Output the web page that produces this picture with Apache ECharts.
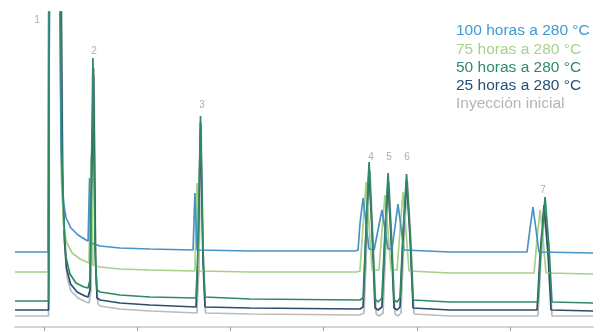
<!DOCTYPE html>
<html>
<head>
<meta charset="utf-8">
<script src="https://cdn.jsdelivr.net/npm/echarts@6/dist/echarts.min.js"></script>
<style>
  html, body { margin: 0; padding: 0; background: #ffffff; }
  #chart { width: 600px; height: 332px; }
</style>
</head>
<body>
<div id="chart"></div>
<script>
// Retention time (min) and detector signal for each run; the solvent peak runs off scale.
const seriesNames = ['100 horas a 280 °C', '75 horas a 280 °C', '50 horas a 280 °C', '25 horas a 280 °C', 'Inyección inicial'];

const trace100h = [
  [0, 75], [1.77, 75], [1.82, 400], [2.36, 400], [2.47, 177], [2.57, 127], [2.74, 109], [3.00, 99],
  [3.38, 92], [3.81, 87], [3.92, 86], [4.00, 149], [4.08, 84], [4.56, 81], [5.63, 79], [7.24, 78],
  [9.55, 77], [9.65, 134], [9.76, 77], [12.60, 76], [18.24, 76],
  [18.40, 77], [18.50, 103], [18.67, 129], [18.83, 103], [18.99, 78],
  [19.26, 77], [19.47, 97], [19.68, 117], [19.85, 97], [20.01, 78],
  [20.22, 78], [20.38, 100], [20.54, 123], [20.70, 100], [20.86, 77],
  [23.33, 75], [27.46, 75], [27.62, 98], [27.78, 120], [27.94, 98], [28.10, 75], [31.00, 74]
];

const trace75h = [
  [0, 55], [1.77, 55], [1.82, 400], [2.39, 400], [2.49, 147], [2.60, 102], [2.76, 85], [3.06, 74],
  [3.49, 68], [3.97, 64], [4.08, 172], [4.18, 62], [4.56, 60], [5.63, 58], [7.24, 57],
  [9.65, 56], [9.76, 144], [9.87, 56], [12.60, 55], [18.34, 55],
  [18.50, 56], [18.67, 102], [18.83, 145], [18.99, 102], [19.15, 57],
  [19.52, 57], [19.68, 95], [19.84, 132], [20.01, 95], [20.17, 57],
  [20.49, 57], [20.65, 97], [20.81, 135], [20.97, 97], [21.13, 56],
  [23.33, 54], [27.84, 54], [28.00, 88], [28.16, 117], [28.32, 88], [28.48, 54], [31.00, 53]
];

const trace50h = [
  [0, 26], [1.80, 26], [1.85, 400], [2.41, 400], [2.52, 167], [2.63, 102], [2.74, 69], [2.95, 53],
  [3.27, 44], [3.70, 40], [3.92, 39], [4.02, 47], [4.18, 269], [4.29, 77], [4.40, 37], [4.56, 35], [5.63, 32],
  [7.24, 30], [9.71, 29], [9.81, 77], [9.95, 211], [10.08, 77], [10.19, 30], [12.60, 28], [18.50, 27],
  [18.67, 29], [18.83, 100], [18.99, 165], [19.15, 100], [19.31, 28], [19.47, 25],
  [19.68, 29], [19.84, 95], [20.01, 154], [20.17, 95], [20.33, 27], [20.49, 25],
  [20.65, 29], [20.81, 95], [21.00, 153], [21.19, 95], [21.35, 27],
  [23.33, 25], [28.05, 25], [28.21, 80], [28.43, 130], [28.64, 80], [28.80, 25], [31.00, 24]
];

const trace25h = [
  [0, 17], [1.80, 17], [1.85, 400], [2.44, 400], [2.55, 152], [2.65, 87], [2.76, 59], [2.98, 43],
  [3.33, 35], [3.75, 31], [3.92, 30], [4.02, 37], [4.21, 259], [4.32, 67], [4.40, 29], [4.56, 27], [5.63, 24],
  [7.24, 22], [9.71, 20], [9.81, 67], [9.95, 205], [10.08, 67], [10.19, 20], [12.60, 19], [18.50, 18],
  [18.67, 20], [18.83, 95], [18.99, 159], [19.15, 95], [19.31, 19], [19.47, 17],
  [19.68, 20], [19.84, 88], [20.01, 147], [20.17, 88], [20.33, 19], [20.49, 17],
  [20.65, 20], [20.81, 88], [21.00, 147], [21.19, 88], [21.35, 19],
  [23.33, 17], [28.00, 17], [28.16, 72], [28.37, 122], [28.59, 72], [28.75, 17], [31.00, 16]
];

const traceInicial = [
  [0, 11], [1.80, 11], [1.85, 400], [2.47, 400], [2.57, 142], [2.68, 77], [2.79, 50], [3.00, 36],
  [3.38, 29], [3.81, 25], [3.97, 24], [4.08, 37], [4.24, 252], [4.34, 47], [4.45, 23], [4.56, 21], [5.63, 18],
  [7.24, 16], [9.76, 14], [9.87, 62], [9.98, 202], [10.11, 62], [10.22, 14], [12.60, 13], [18.50, 12],
  [18.72, 14], [18.88, 90], [19.04, 157], [19.20, 90], [19.37, 13], [19.53, 11],
  [19.74, 14], [19.90, 85], [20.06, 145], [20.22, 85], [20.38, 13], [20.54, 11],
  [20.70, 14], [20.86, 85], [21.05, 145], [21.24, 85], [21.40, 13],
  [23.33, 11], [28.05, 11], [28.21, 68], [28.43, 118], [28.64, 68], [28.80, 11], [31.00, 11]
];

// Peak numbers placed above each peak
const peakLabels = [
  ['1', 1.18, 307], ['2', 4.24, 276], ['3', 10.03, 222], ['4', 19.09, 170],
  ['5', 20.06, 170], ['6', 21.02, 170], ['7', 28.32, 137]
];

const xTicks = [1.55, 6.55, 11.55, 16.55, 21.55, 26.55];

const colors = {
  '100 horas a 280 °C': '#4a92c6',
  '75 horas a 280 °C': '#a8d08a',
  '50 horas a 280 °C': '#2e8a60',
  '25 horas a 280 °C': '#2c4d6c',
  'Inyección inicial': '#b8bcbf'
};
const textColors = {
  '100 horas a 280 °C': '#3d9ad6',
  '75 horas a 280 °C': '#a9d18e',
  '50 horas a 280 °C': '#2f8a6f',
  '25 horas a 280 °C': '#245078',
  'Inyección inicial': '#b4b4b4'
};

function lineSeries(name, data, z) {
  return {
    name: name,
    type: 'line',
    data: data,
    symbol: 'none',
    smooth: false,
    clip: true,
    z: z,
    lineStyle: { color: colors[name], width: 1.7 },
    itemStyle: { color: colors[name] }
  };
}

const chart = echarts.init(document.getElementById('chart'), null, { renderer: 'canvas' });
chart.setOption({
  animation: false,
  backgroundColor: '#ffffff',
  grid: { left: 15, right: 7, top: 12, bottom: 5, containLabel: false },
  legend: {
    orient: 'vertical',
    left: 446,
    top: 18,
    icon: 'none',
    itemWidth: 0,
    itemHeight: 14,
    itemGap: 2.3,
    selectedMode: false,
    data: seriesNames.map(n => ({ name: n, textStyle: { color: textColors[n] } })),
    textStyle: { fontFamily: 'Liberation Sans, Arial, sans-serif', fontSize: 15.5, lineHeight: 16 }
  },
  xAxis: {
    type: 'value',
    min: 0,
    max: 31,
    axisLine: { show: true, lineStyle: { color: '#c4c6c8', width: 1.5 } },
    axisTick: { show: true, customValues: xTicks, inside: false, length: 4, lineStyle: { color: '#9a9ea2' } },
    axisLabel: { show: false },
    splitLine: { show: false }
  },
  yAxis: {
    type: 'value',
    min: 0,
    max: 315,
    show: false,
    splitLine: { show: false }
  },
  series: [
    lineSeries('Inyección inicial', traceInicial, 1),
    lineSeries('25 horas a 280 °C', trace25h, 2),
    lineSeries('75 horas a 280 °C', trace75h, 3),
    lineSeries('100 horas a 280 °C', trace100h, 4),
    lineSeries('50 horas a 280 °C', trace50h, 5),
    {
      type: 'scatter',
      symbolSize: 0,
      z: 6,
      silent: true,
      data: peakLabels.map(p => ({ value: [p[1], p[2]], name: p[0] })),
      label: {
        show: true,
        position: 'inside',
        formatter: '{b}',
        color: '#9a9a9a',
        fontSize: 10,
        fontFamily: 'Liberation Sans, Arial, sans-serif'
      }
    }
  ]
});
</script>
</body>
</html>
